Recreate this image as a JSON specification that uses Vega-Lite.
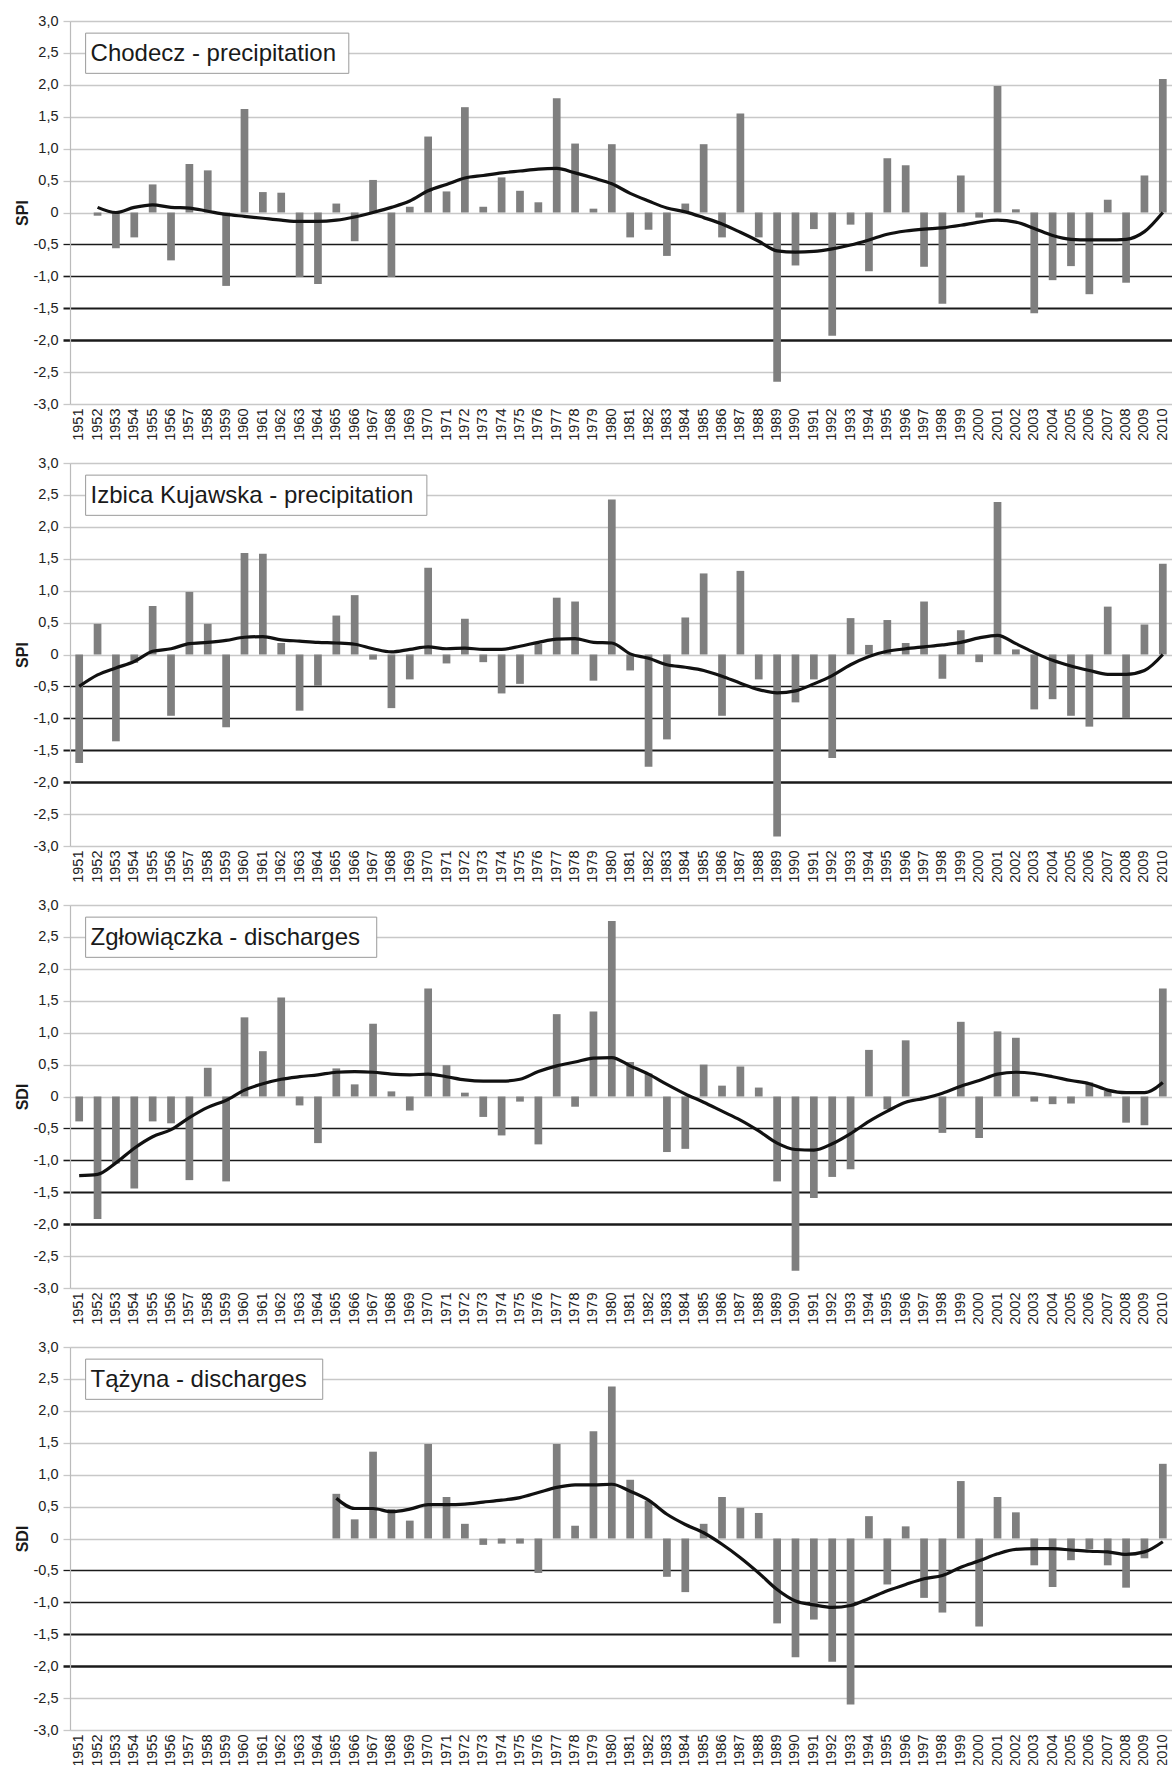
{
  "$schema": "https://vega.github.io/schema/vega-lite/v6.json",
  "background": "white",
  "padding": {"left": 14, "top": 13, "right": 0, "bottom": 0},
  "spacing": 14,
  "config": {
    "view": {"stroke": null},
    "font": "Liberation Sans",
    "axisX": {
      "title": null, "labelAngle": -90, "labelFontSize": 14.5, "labelColor": "#222222",
      "ticks": false, "domain": false, "grid": false, "labelPadding": 4
    },
    "axisY": {
      "values": [-3, -2.5, -2, -1.5, -1, -0.5, 0, 0.5, 1, 1.5, 2, 2.5, 3],
      "labelExpr": "(datum.value < 0 ? '-' : '') + (datum.value == 0 ? '0' : replace(format(abs(datum.value), '.1f'), '.', ','))",
      "labelFontSize": 14.5, "labelColor": "#222222", "labelPadding": 5,
      "titleFontSize": 16, "titleFontWeight": "bold", "titleColor": "#1a1a1a", "titlePadding": 3,
      "tickSize": 7,
      "domainColor": "#bbbbbb", "domainWidth": 1.2,
      "grid": true,
      "gridColor": {"condition": {"test": "datum.value <= -0.5 && datum.value >= -2", "value": "#1a1a1a"}, "value": "#c8c8c8"},
      "tickColor": {"condition": {"test": "datum.value <= -0.5 && datum.value >= -2", "value": "#1a1a1a"}, "value": "#c8c8c8"},
      "gridWidth": {"condition": [
        {"test": "datum.value == -2", "value": 2.5},
        {"test": "datum.value == -1.5", "value": 2.0},
        {"test": "datum.value == -1", "value": 1.6},
        {"test": "datum.value == -0.5", "value": 1.3}], "value": 1.3},
      "tickWidth": {"condition": [
        {"test": "datum.value == -2", "value": 2.5},
        {"test": "datum.value == -1.5", "value": 2.0},
        {"test": "datum.value == -1", "value": 1.6},
        {"test": "datum.value == -0.5", "value": 1.3}], "value": 1.3}
    }
  },
  "datasets": {
    "chodecz": [
      {"year":1952,"v":-0.05,"t":0.08},{"year":1953,"v":-0.56,"t":0.0},{"year":1954,"v":-0.39,"t":0.08},
      {"year":1955,"v":0.44,"t":0.12},{"year":1956,"v":-0.75,"t":0.08},{"year":1957,"v":0.76,"t":0.07},
      {"year":1958,"v":0.66,"t":0.02},{"year":1959,"v":-1.15,"t":-0.03},{"year":1960,"v":1.62,"t":-0.06},
      {"year":1961,"v":0.32,"t":-0.09},{"year":1962,"v":0.31,"t":-0.12},{"year":1963,"v":-1.01,"t":-0.14},
      {"year":1964,"v":-1.12,"t":-0.14},{"year":1965,"v":0.14,"t":-0.12},{"year":1966,"v":-0.45,"t":-0.07},
      {"year":1967,"v":0.51,"t":0.0},{"year":1968,"v":-1.01,"t":0.08},{"year":1969,"v":0.09,"t":0.18},
      {"year":1970,"v":1.19,"t":0.34},{"year":1971,"v":0.33,"t":0.44},{"year":1972,"v":1.65,"t":0.54},
      {"year":1973,"v":0.09,"t":0.58},{"year":1974,"v":0.55,"t":0.62},{"year":1975,"v":0.34,"t":0.65},
      {"year":1976,"v":0.16,"t":0.68},{"year":1977,"v":1.79,"t":0.69},{"year":1978,"v":1.08,"t":0.62},
      {"year":1979,"v":0.06,"t":0.54},{"year":1980,"v":1.07,"t":0.45},{"year":1981,"v":-0.39,"t":0.3},
      {"year":1982,"v":-0.27,"t":0.18},{"year":1983,"v":-0.68,"t":0.07},{"year":1984,"v":0.14,"t":0.01},
      {"year":1985,"v":1.07,"t":-0.08},{"year":1986,"v":-0.39,"t":-0.18},{"year":1987,"v":1.55,"t":-0.31},
      {"year":1988,"v":-0.39,"t":-0.45},{"year":1989,"v":-2.65,"t":-0.6},{"year":1990,"v":-0.83,"t":-0.62},
      {"year":1991,"v":-0.26,"t":-0.61},{"year":1992,"v":-1.93,"t":-0.57},{"year":1993,"v":-0.19,"t":-0.51},
      {"year":1994,"v":-0.92,"t":-0.43},{"year":1995,"v":0.85,"t":-0.34},{"year":1996,"v":0.74,"t":-0.29},
      {"year":1997,"v":-0.85,"t":-0.26},{"year":1998,"v":-1.43,"t":-0.24},{"year":1999,"v":0.58,"t":-0.2},
      {"year":2000,"v":-0.08,"t":-0.15},{"year":2001,"v":1.98,"t":-0.12},{"year":2002,"v":0.05,"t":-0.15},
      {"year":2003,"v":-1.58,"t":-0.25},{"year":2004,"v":-1.06,"t":-0.36},{"year":2005,"v":-0.84,"t":-0.42},
      {"year":2006,"v":-1.28,"t":-0.43},{"year":2007,"v":0.2,"t":-0.43},{"year":2008,"v":-1.1,"t":-0.42},
      {"year":2009,"v":0.58,"t":-0.3},{"year":2010,"v":2.09,"t":0.0}
    ],
    "izbica": [
      {"year":1951,"v":-1.7,"t":-0.5},{"year":1952,"v":0.48,"t":-0.32},{"year":1953,"v":-1.36,"t":-0.21},
      {"year":1954,"v":-0.13,"t":-0.11},{"year":1955,"v":0.76,"t":0.05},{"year":1956,"v":-0.96,"t":0.09},
      {"year":1957,"v":0.98,"t":0.17},{"year":1958,"v":0.48,"t":0.19},{"year":1959,"v":-1.14,"t":0.22},
      {"year":1960,"v":1.59,"t":0.27},{"year":1961,"v":1.58,"t":0.28},{"year":1962,"v":0.18,"t":0.23},
      {"year":1963,"v":-0.88,"t":0.21},{"year":1964,"v":-0.49,"t":0.19},{"year":1965,"v":0.61,"t":0.18},
      {"year":1966,"v":0.93,"t":0.16},{"year":1967,"v":-0.08,"t":0.09},{"year":1968,"v":-0.84,"t":0.04},
      {"year":1969,"v":-0.39,"t":0.08},{"year":1970,"v":1.36,"t":0.12},{"year":1971,"v":-0.14,"t":0.09},
      {"year":1972,"v":0.56,"t":0.1},{"year":1973,"v":-0.12,"t":0.08},{"year":1974,"v":-0.61,"t":0.08},
      {"year":1975,"v":-0.46,"t":0.13},{"year":1976,"v":0.17,"t":0.19},{"year":1977,"v":0.89,"t":0.24},
      {"year":1978,"v":0.83,"t":0.25},{"year":1979,"v":-0.41,"t":0.19},{"year":1980,"v":2.43,"t":0.18},
      {"year":1981,"v":-0.25,"t":0.01},{"year":1982,"v":-1.76,"t":-0.06},{"year":1983,"v":-1.33,"t":-0.16},
      {"year":1984,"v":0.58,"t":-0.2},{"year":1985,"v":1.27,"t":-0.25},{"year":1986,"v":-0.96,"t":-0.34},
      {"year":1987,"v":1.31,"t":-0.45},{"year":1988,"v":-0.39,"t":-0.55},{"year":1989,"v":-2.85,"t":-0.6},
      {"year":1990,"v":-0.75,"t":-0.57},{"year":1991,"v":-0.39,"t":-0.46},{"year":1992,"v":-1.62,"t":-0.33},
      {"year":1993,"v":0.57,"t":-0.16},{"year":1994,"v":0.15,"t":-0.03},{"year":1995,"v":0.54,"t":0.05},
      {"year":1996,"v":0.18,"t":0.09},{"year":1997,"v":0.83,"t":0.12},{"year":1998,"v":-0.38,"t":0.15},
      {"year":1999,"v":0.38,"t":0.19},{"year":2000,"v":-0.12,"t":0.26},{"year":2001,"v":2.39,"t":0.3},
      {"year":2002,"v":0.08,"t":0.17},{"year":2003,"v":-0.86,"t":0.03},{"year":2004,"v":-0.7,"t":-0.09},
      {"year":2005,"v":-0.96,"t":-0.18},{"year":2006,"v":-1.13,"t":-0.25},{"year":2007,"v":0.75,"t":-0.31},
      {"year":2008,"v":-1.0,"t":-0.31},{"year":2009,"v":0.47,"t":-0.25},{"year":2010,"v":1.42,"t":0.0}
    ],
    "zglowiaczka": [
      {"year":1951,"v":-0.39,"t":-1.24},{"year":1952,"v":-1.92,"t":-1.22},{"year":1953,"v":-1.05,"t":-1.04},
      {"year":1954,"v":-1.44,"t":-0.81},{"year":1955,"v":-0.39,"t":-0.63},{"year":1956,"v":-0.42,"t":-0.52},
      {"year":1957,"v":-1.31,"t":-0.33},{"year":1958,"v":0.45,"t":-0.17},{"year":1959,"v":-1.33,"t":-0.06},
      {"year":1960,"v":1.24,"t":0.1},{"year":1961,"v":0.71,"t":0.2},{"year":1962,"v":1.55,"t":0.27},
      {"year":1963,"v":-0.14,"t":0.31},{"year":1964,"v":-0.73,"t":0.34},{"year":1965,"v":0.44,"t":0.38},
      {"year":1966,"v":0.19,"t":0.39},{"year":1967,"v":1.14,"t":0.38},{"year":1968,"v":0.08,"t":0.35},
      {"year":1969,"v":-0.22,"t":0.34},{"year":1970,"v":1.69,"t":0.35},{"year":1971,"v":0.49,"t":0.31},
      {"year":1972,"v":0.06,"t":0.26},{"year":1973,"v":-0.32,"t":0.24},{"year":1974,"v":-0.61,"t":0.24},
      {"year":1975,"v":-0.08,"t":0.27},{"year":1976,"v":-0.75,"t":0.39},{"year":1977,"v":1.29,"t":0.48},
      {"year":1978,"v":-0.16,"t":0.54},{"year":1979,"v":1.33,"t":0.6},{"year":1980,"v":2.75,"t":0.61},
      {"year":1981,"v":0.54,"t":0.48},{"year":1982,"v":0.36,"t":0.35},{"year":1983,"v":-0.87,"t":0.19},
      {"year":1984,"v":-0.82,"t":0.04},{"year":1985,"v":0.5,"t":-0.09},{"year":1986,"v":0.17,"t":-0.23},
      {"year":1987,"v":0.47,"t":-0.37},{"year":1988,"v":0.14,"t":-0.54},{"year":1989,"v":-1.33,"t":-0.73},
      {"year":1990,"v":-2.73,"t":-0.83},{"year":1991,"v":-1.59,"t":-0.84},{"year":1992,"v":-1.26,"t":-0.74},
      {"year":1993,"v":-1.14,"t":-0.58},{"year":1994,"v":0.73,"t":-0.39},{"year":1995,"v":-0.2,"t":-0.23},
      {"year":1996,"v":0.88,"t":-0.09},{"year":1997,"v":-0.03,"t":-0.03},{"year":1998,"v":-0.57,"t":0.05},
      {"year":1999,"v":1.17,"t":0.16},{"year":2000,"v":-0.65,"t":0.25},{"year":2001,"v":1.02,"t":0.35},
      {"year":2002,"v":0.92,"t":0.38},{"year":2003,"v":-0.08,"t":0.36},{"year":2004,"v":-0.12,"t":0.31},
      {"year":2005,"v":-0.11,"t":0.25},{"year":2006,"v":0.22,"t":0.2},{"year":2007,"v":0.09,"t":0.1},
      {"year":2008,"v":-0.41,"t":0.06},{"year":2009,"v":-0.45,"t":0.06},{"year":2010,"v":1.69,"t":0.22}
    ],
    "tazyna": [
      {"year":1965,"v":0.7,"t":0.63},{"year":1966,"v":0.3,"t":0.47},{"year":1967,"v":1.36,"t":0.47},
      {"year":1968,"v":0.46,"t":0.42},{"year":1969,"v":0.28,"t":0.46},{"year":1970,"v":1.48,"t":0.53},
      {"year":1971,"v":0.65,"t":0.53},{"year":1972,"v":0.23,"t":0.54},{"year":1973,"v":-0.1,"t":0.57},
      {"year":1974,"v":-0.08,"t":0.6},{"year":1975,"v":-0.08,"t":0.64},{"year":1976,"v":-0.54,"t":0.72},
      {"year":1977,"v":1.48,"t":0.8},{"year":1978,"v":0.2,"t":0.84},{"year":1979,"v":1.68,"t":0.84},
      {"year":1980,"v":2.38,"t":0.85},{"year":1981,"v":0.92,"t":0.74},{"year":1982,"v":0.59,"t":0.6},
      {"year":1983,"v":-0.6,"t":0.38},{"year":1984,"v":-0.84,"t":0.22},{"year":1985,"v":0.23,"t":0.09},
      {"year":1986,"v":0.65,"t":-0.09},{"year":1987,"v":0.48,"t":-0.3},{"year":1988,"v":0.4,"t":-0.54},
      {"year":1989,"v":-1.33,"t":-0.8},{"year":1990,"v":-1.86,"t":-0.98},{"year":1991,"v":-1.27,"t":-1.04},
      {"year":1992,"v":-1.93,"t":-1.08},{"year":1993,"v":-2.6,"t":-1.05},{"year":1994,"v":0.35,"t":-0.94},
      {"year":1995,"v":-0.72,"t":-0.82},{"year":1996,"v":0.19,"t":-0.72},{"year":1997,"v":-0.93,"t":-0.63},
      {"year":1998,"v":-1.16,"t":-0.58},{"year":1999,"v":0.9,"t":-0.45},{"year":2000,"v":-1.38,"t":-0.35},
      {"year":2001,"v":0.65,"t":-0.24},{"year":2002,"v":0.41,"t":-0.17},{"year":2003,"v":-0.42,"t":-0.16},
      {"year":2004,"v":-0.76,"t":-0.16},{"year":2005,"v":-0.34,"t":-0.18},{"year":2006,"v":-0.17,"t":-0.2},
      {"year":2007,"v":-0.42,"t":-0.21},{"year":2008,"v":-0.77,"t":-0.25},{"year":2009,"v":-0.31,"t":-0.21},
      {"year":2010,"v":1.17,"t":-0.05}
    ]
  },
  "vconcat": [
    {
      "width": 1102, "height": 383,
      "data": {"name": "chodecz"},
      "encoding": {"x": {"field": "year", "type": "ordinal", "scale": {"domain": [1951,1952,1953,1954,1955,1956,1957,1958,1959,1960,1961,1962,1963,1964,1965,1966,1967,1968,1969,1970,1971,1972,1973,1974,1975,1976,1977,1978,1979,1980,1981,1982,1983,1984,1985,1986,1987,1988,1989,1990,1991,1992,1993,1994,1995,1996,1997,1998,1999,2000,2001,2002,2003,2004,2005,2006,2007,2008,2009,2010], "paddingInner": 0, "paddingOuter": 0}}},
      "layer": [
        {"mark": {"type": "bar", "color": "#7f7f7f", "width": {"band": 0.42}},
         "encoding": {"y": {"field": "v", "type": "quantitative", "title": "SPI", "scale": {"domain": [-3, 3], "nice": false}}}},
        {"mark": {"type": "line", "color": "#111111", "strokeWidth": 3.2, "interpolate": "monotone"},
         "encoding": {"y": {"field": "t", "type": "quantitative", "title": "SPI"}}},
        {"data": {"values": [{"label": "Chodecz - precipitation"}]},
         "layer": [
           {"mark": {"type": "rect", "fill": "white", "stroke": "#9a9a9a", "strokeWidth": 1},
            "encoding": {"x": {"datum": 1951, "bandPosition": 0.85}, "x2": {"datum": 1966, "bandPosition": 0.18}, "y": {"datum": 2.81}, "y2": {"datum": 2.18}}},
           {"mark": {"type": "text", "align": "left", "baseline": "middle", "fontSize": 24, "color": "#1a1a1a"},
            "encoding": {"x": {"datum": 1952, "bandPosition": 0.12}, "y": {"datum": 2.49}, "text": {"field": "label"}}}
         ]}
      ]
    },
    {
      "width": 1102, "height": 383,
      "data": {"name": "izbica"},
      "encoding": {"x": {"field": "year", "type": "ordinal", "scale": {"domain": [1951,1952,1953,1954,1955,1956,1957,1958,1959,1960,1961,1962,1963,1964,1965,1966,1967,1968,1969,1970,1971,1972,1973,1974,1975,1976,1977,1978,1979,1980,1981,1982,1983,1984,1985,1986,1987,1988,1989,1990,1991,1992,1993,1994,1995,1996,1997,1998,1999,2000,2001,2002,2003,2004,2005,2006,2007,2008,2009,2010], "paddingInner": 0, "paddingOuter": 0}}},
      "layer": [
        {"mark": {"type": "bar", "color": "#7f7f7f", "width": {"band": 0.42}},
         "encoding": {"y": {"field": "v", "type": "quantitative", "title": "SPI", "scale": {"domain": [-3, 3], "nice": false}}}},
        {"mark": {"type": "line", "color": "#111111", "strokeWidth": 3.2, "interpolate": "monotone"},
         "encoding": {"y": {"field": "t", "type": "quantitative", "title": "SPI"}}},
        {"data": {"values": [{"label": "Izbica Kujawska - precipitation"}]},
         "layer": [
           {"mark": {"type": "rect", "fill": "white", "stroke": "#9a9a9a", "strokeWidth": 1},
            "encoding": {"x": {"datum": 1951, "bandPosition": 0.85}, "x2": {"datum": 1970, "bandPosition": 0.43}, "y": {"datum": 2.81}, "y2": {"datum": 2.18}}},
           {"mark": {"type": "text", "align": "left", "baseline": "middle", "fontSize": 24, "color": "#1a1a1a"},
            "encoding": {"x": {"datum": 1952, "bandPosition": 0.12}, "y": {"datum": 2.49}, "text": {"field": "label"}}}
         ]}
      ]
    },
    {
      "width": 1102, "height": 383,
      "data": {"name": "zglowiaczka"},
      "encoding": {"x": {"field": "year", "type": "ordinal", "scale": {"domain": [1951,1952,1953,1954,1955,1956,1957,1958,1959,1960,1961,1962,1963,1964,1965,1966,1967,1968,1969,1970,1971,1972,1973,1974,1975,1976,1977,1978,1979,1980,1981,1982,1983,1984,1985,1986,1987,1988,1989,1990,1991,1992,1993,1994,1995,1996,1997,1998,1999,2000,2001,2002,2003,2004,2005,2006,2007,2008,2009,2010], "paddingInner": 0, "paddingOuter": 0}}},
      "layer": [
        {"mark": {"type": "bar", "color": "#7f7f7f", "width": {"band": 0.42}},
         "encoding": {"y": {"field": "v", "type": "quantitative", "title": "SDI", "scale": {"domain": [-3, 3], "nice": false}}}},
        {"mark": {"type": "line", "color": "#111111", "strokeWidth": 3.2, "interpolate": "monotone"},
         "encoding": {"y": {"field": "t", "type": "quantitative", "title": "SDI"}}},
        {"data": {"values": [{"label": "Zgłowiączka - discharges"}]},
         "layer": [
           {"mark": {"type": "rect", "fill": "white", "stroke": "#9a9a9a", "strokeWidth": 1},
            "encoding": {"x": {"datum": 1951, "bandPosition": 0.85}, "x2": {"datum": 1967, "bandPosition": 0.7}, "y": {"datum": 2.81}, "y2": {"datum": 2.18}}},
           {"mark": {"type": "text", "align": "left", "baseline": "middle", "fontSize": 24, "color": "#1a1a1a"},
            "encoding": {"x": {"datum": 1952, "bandPosition": 0.12}, "y": {"datum": 2.49}, "text": {"field": "label"}}}
         ]}
      ]
    },
    {
      "width": 1102, "height": 383,
      "data": {"name": "tazyna"},
      "encoding": {"x": {"field": "year", "type": "ordinal", "scale": {"domain": [1951,1952,1953,1954,1955,1956,1957,1958,1959,1960,1961,1962,1963,1964,1965,1966,1967,1968,1969,1970,1971,1972,1973,1974,1975,1976,1977,1978,1979,1980,1981,1982,1983,1984,1985,1986,1987,1988,1989,1990,1991,1992,1993,1994,1995,1996,1997,1998,1999,2000,2001,2002,2003,2004,2005,2006,2007,2008,2009,2010], "paddingInner": 0, "paddingOuter": 0}}},
      "layer": [
        {"mark": {"type": "bar", "color": "#7f7f7f", "width": {"band": 0.42}},
         "encoding": {"y": {"field": "v", "type": "quantitative", "title": "SDI", "scale": {"domain": [-3, 3], "nice": false}}}},
        {"mark": {"type": "line", "color": "#111111", "strokeWidth": 3.2, "interpolate": "monotone"},
         "encoding": {"y": {"field": "t", "type": "quantitative", "title": "SDI"}}},
        {"data": {"values": [{"label": "Tążyna - discharges"}]},
         "layer": [
           {"mark": {"type": "rect", "fill": "white", "stroke": "#9a9a9a", "strokeWidth": 1},
            "encoding": {"x": {"datum": 1951, "bandPosition": 0.85}, "x2": {"datum": 1964, "bandPosition": 0.76}, "y": {"datum": 2.81}, "y2": {"datum": 2.18}}},
           {"mark": {"type": "text", "align": "left", "baseline": "middle", "fontSize": 24, "color": "#1a1a1a"},
            "encoding": {"x": {"datum": 1952, "bandPosition": 0.12}, "y": {"datum": 2.49}, "text": {"field": "label"}}}
         ]}
      ]
    }
  ]
}
